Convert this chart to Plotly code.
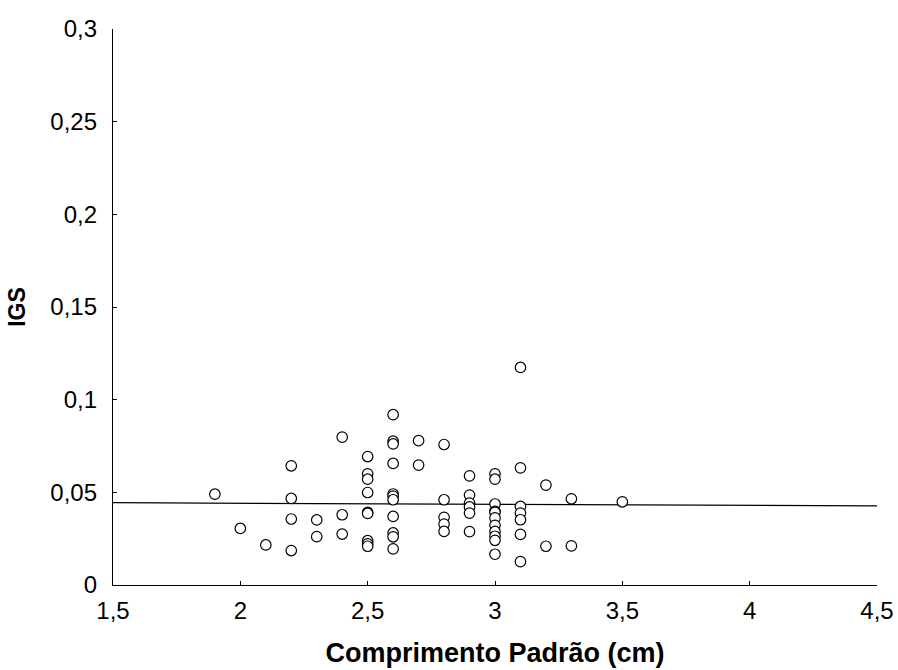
import numpy as np
import plotly.graph_objects as go

# Comprimento Padrão (cm)
comprimento = [
    1.9,
    2.0,
    2.1,
    2.2, 2.2, 2.2, 2.2,
    2.3, 2.3,
    2.4, 2.4, 2.4,
    2.5, 2.5, 2.5, 2.5, 2.5, 2.5, 2.5, 2.5, 2.5,
    2.6, 2.6, 2.6, 2.6, 2.6, 2.6, 2.6, 2.6, 2.6, 2.6, 2.6,
    2.7, 2.7,
    2.8, 2.8, 2.8, 2.8, 2.8,
    2.9, 2.9, 2.9, 2.9, 2.9, 2.9,
    3.0, 3.0, 3.0, 3.0, 3.0, 3.0, 3.0, 3.0, 3.0, 3.0, 3.0,
    3.1, 3.1, 3.1, 3.1, 3.1, 3.1, 3.1,
    3.2, 3.2,
    3.3, 3.3,
    3.5,
]

# IGS
igs = [
    0.0490,
    0.0305,
    0.0216,
    0.0643, 0.0467, 0.0356, 0.0186,
    0.0351, 0.0261,
    0.0798, 0.0379, 0.0275,
    0.0693, 0.0600, 0.0571, 0.0499, 0.0392, 0.0386, 0.0239, 0.0222, 0.0209,
    0.0919, 0.0776, 0.0761, 0.0656, 0.0491, 0.0480, 0.0460, 0.0370, 0.0281, 0.0260, 0.0195,
    0.0779, 0.0647,
    0.0758, 0.0460, 0.0365, 0.0329, 0.0289,
    0.0589, 0.0485, 0.0442, 0.0421, 0.0388, 0.0288,
    0.0600, 0.0571, 0.0437, 0.0397, 0.0392, 0.0362, 0.0322, 0.0289, 0.0263, 0.0241, 0.0166,
    0.1174, 0.0632, 0.0424, 0.0388, 0.0352, 0.0273, 0.0126,
    0.0539, 0.0209,
    0.0465, 0.0211,
    0.0449,
]

x_range = [1.5, 4.5]
y_range = [0, 0.3]

# linear regression line
slope, intercept = np.polyfit(comprimento, igs, 1)
fit_x = np.array(x_range)
fit_y = intercept + slope * fit_x

fig = go.Figure()
fig.add_trace(go.Scatter(
    x=fit_x, y=fit_y, mode="lines",
    line=dict(color="black", width=1.3),
    hoverinfo="skip", showlegend=False,
))
fig.add_trace(go.Scatter(
    x=comprimento, y=igs, mode="markers",
    marker=dict(symbol="circle", size=10.5, color="white",
                line=dict(color="black", width=1.2)),
    showlegend=False,
))

font_family = "Liberation Sans, Arial, sans-serif"
fig.update_layout(
    width=898, height=670,
    margin=dict(l=113, r=21, t=29, b=85),
    plot_bgcolor="white", paper_bgcolor="white",
    separators=", ",
    font=dict(family=font_family, color="black", size=24),
)
fig.update_xaxes(
    range=x_range, dtick=0.5, tick0=1.5,
    showgrid=False, zeroline=False, automargin=False,
    showline=True, linecolor="black", linewidth=1.3,
    ticks="inside", ticklen=4, tickcolor="black", tickwidth=1.3,
    ticklabelstandoff=4,
    tickfont=dict(size=24),
    title=dict(text="<b>Comprimento Padrão (cm)</b>", font=dict(size=27), standoff=20),
)
fig.update_yaxes(
    range=y_range, dtick=0.05, tick0=0,
    showgrid=False, zeroline=False, automargin=False,
    showline=True, linecolor="black", linewidth=1.3,
    ticks="inside", ticklen=4, tickcolor="black", tickwidth=1.3,
    ticklabelstandoff=10,
    tickfont=dict(size=24),
    title=dict(text="<b>IGS</b>", font=dict(size=23), standoff=18),
)

fig.write_html("out.html")
